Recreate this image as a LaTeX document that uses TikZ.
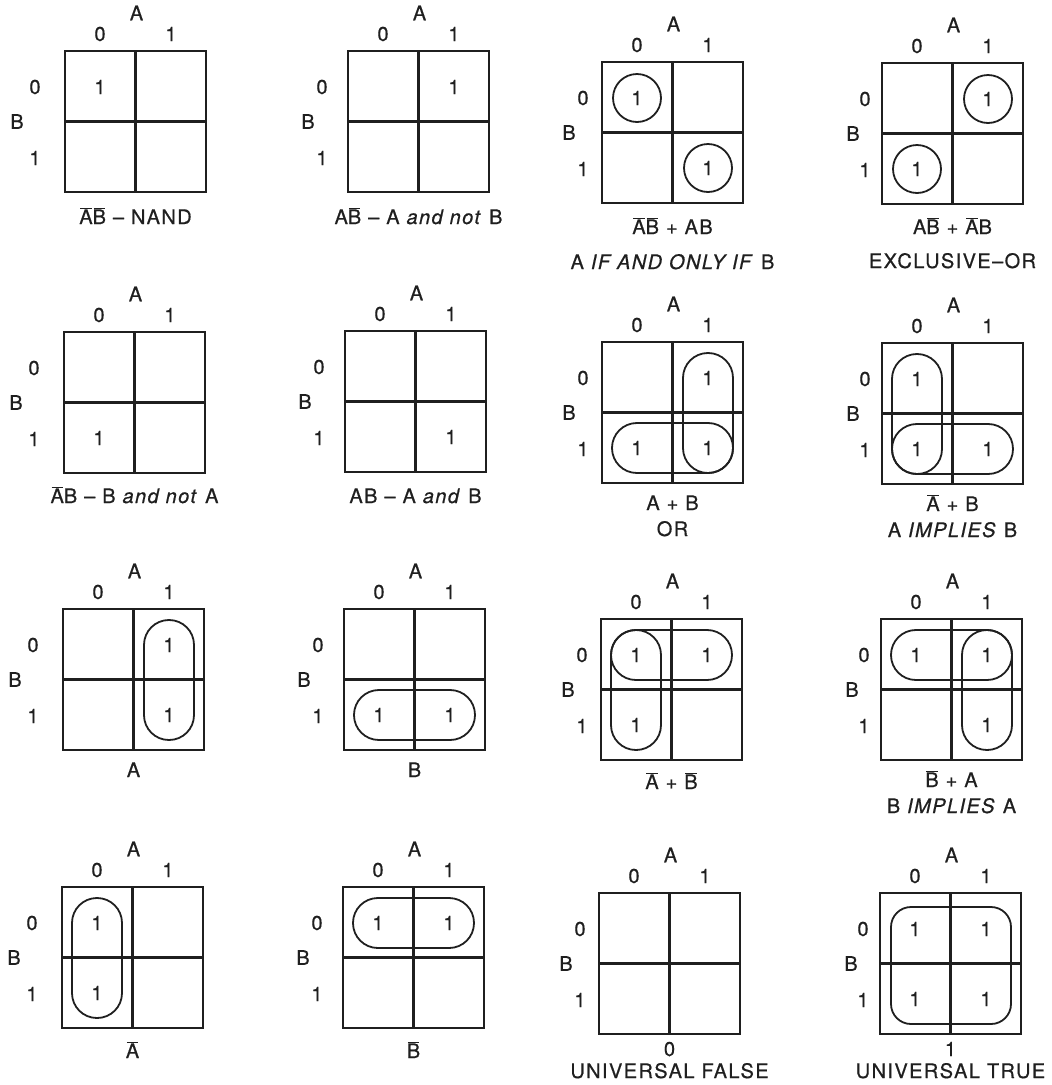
\documentclass[tikz,border=0pt]{standalone}
\usepackage{fontspec}
\setmainfont{TeX Gyre Heros}[LetterSpace=7, FakeBold=0.6]
\usepackage{xcolor}
\usetikzlibrary{calc}

\colorlet{ink}{black!88}
\newcommand\cmpl[1]{\kern1pt\relax$\overline{\mbox{\kern-1pt\relax#1\kern-1pt\relax}}$\kern1pt\relax}

\newcommand\kmap[5]{%
  \node[kbox, anchor=north west] (#1) at (#2,#3) {};
  \draw[kgrid] (#1.north) -- (#1.south);
  \draw[kgrid] (#1.west) -- (#1.east);
  \node[klbl] (#1-A) at ($(#1.north)+(1,-38)$) {A};
  \node[klbl] (#1-a0) at ($(#1.north west)+(35,-17)$) {0};
  \node[klbl] (#1-a1) at ($(#1.north west)+(106,-17)$) {1};
  \node[klbl] (#1-B) at ($(#1.west)+(-#4,0)$) {B};
  \node[klbl] (#1-b0) at ($(#1.north west)+(-#5,36)$) {0};
  \node[klbl] (#1-b1) at ($(#1.north west)+(-#5,107)$) {1};
  \coordinate (#1-00) at ($(#1.north west)+(35,36)$);
  \coordinate (#1-10) at ($(#1.north west)+(106,36)$);
  \coordinate (#1-01) at ($(#1.north west)+(35,106)$);
  \coordinate (#1-11) at ($(#1.north west)+(106,106)$);
}

\begin{document}
\begin{tikzpicture}[
  x=1pt, y=-1pt,
  font=\fontsize{20}{24}\selectfont, text=ink,
  kbox/.style={draw=ink, line width=2.4pt, minimum size=141pt, inner sep=0pt, outer sep=0pt},
  kgrid/.style={draw=ink, line width=2.2pt},
  klbl/.style={inner sep=0pt},
  kone/.style={inner sep=0pt},
  kcap/.style={inner sep=0pt, anchor=base},
  kloop/.style={draw=ink, line width=1.8pt, rounded corners=24.9pt}
]
  \useasboundingbox (0,0) rectangle (1052,1085);

  \kmap{m1}{65}{51}{48}{30}
  \kmap{m2}{348}{51}{40}{26}
  \kmap{m3}{602}{62}{33}{19}
  \kmap{m4}{882}{63}{29}{17}
  \kmap{m5}{64}{332}{48}{30}
  \kmap{m6}{345}{331}{40}{26}
  \kmap{m7}{602}{342}{33}{19}
  \kmap{m8}{882}{343}{29}{17}
  \kmap{m9}{63}{609}{48}{30}
  \kmap{m10}{344}{609}{40}{26}
  \kmap{m11}{601}{619}{33}{19}
  \kmap{m12}{881}{619}{29}{17}
  \kmap{m13}{62}{887}{48}{30}
  \kmap{m14}{343}{887}{40}{26}
  \kmap{m15}{599}{893}{33}{19}
  \kmap{m16}{880}{893}{29}{17}

  \foreach \m/\c in {m1/00, m2/10, m3/00, m3/11, m4/10, m4/01, m5/01, m6/11,
      m7/10, m7/01, m7/11, m8/00, m8/01, m8/11, m9/10, m9/11, m10/01, m10/11,
      m11/00, m11/10, m11/01, m12/00, m12/10, m12/11, m13/00, m13/01,
      m14/00, m14/10, m16/00, m16/10, m16/01, m16/11}
    \node[kone] (\m-v\c) at (\m-\c) {1};

  \foreach \m/\c in {m3/00, m3/11, m4/10, m4/01}
    \draw[kloop] (\m-\c) circle (24pt);
  \foreach \m/\p/\q in {m7/10/11, m7/01/11, m8/00/01, m8/01/11, m9/10/11,
      m10/01/11, m11/00/10, m11/00/01, m12/00/10, m12/10/11, m13/00/01, m14/00/10}
    \draw[kloop] ($(\m-\p)+(-25,-25)$) rectangle ($(\m-\q)+(25,25)$);
  \draw[kloop, rounded corners=20pt] ($(m16-00)+(-24,-22)$) rectangle ($(m16-11)+(25,25)$);

  \node[kcap] (m1-cap) at ($(m1.south)+(0,32)$) {\cmpl{A}\cmpl{B} -- NAND};
  \node[kcap] (m2-cap) at ($(m2.south)+(0,32)$) {A\cmpl{B} -- A \textit{and not} B};
  \node[kcap] (m3-cap) at ($(m3.south)+(0,31)$) {\cmpl{A}\cmpl{B} + AB};
  \node[kcap] (m3-cap2) at ($(m3.south)+(0,66)$) {A \textit{IF AND ONLY IF} B};
  \node[kcap] (m4-cap) at ($(m4.south)+(0,30)$) {A\cmpl{B} + \cmpl{A}B};
  \node[kcap] (m4-cap2) at ($(m4.south)+(0,64)$) {EXCLUSIVE--OR};
  \node[kcap] (m5-cap) at ($(m5.south)+(0,30)$) {\cmpl{A}B -- B \textit{and not} A};
  \node[kcap] (m6-cap) at ($(m6.south)+(0,31)$) {AB -- A \textit{and} B};
  \node[kcap] (m7-cap) at ($(m7.south)+(0,27)$) {A + B};
  \node[kcap] (m7-cap2) at ($(m7.south)+(0,53)$) {OR};
  \node[kcap] (m8-cap) at ($(m8.south)+(0,27)$) {\cmpl{A} + B};
  \node[kcap] (m8-cap2) at ($(m8.south)+(0,53)$) {A \textit{IMPLIES} B};
  \node[kcap] (m9-cap) at ($(m9.south)+(0,27)$) {A};
  \node[kcap] (m10-cap) at ($(m10.south)+(0,27)$) {B};
  \node[kcap] (m11-cap) at ($(m11.south)+(0,29)$) {\cmpl{A} + \cmpl{B}};
  \node[kcap] (m12-cap) at ($(m12.south)+(0,27)$) {\cmpl{B} + A};
  \node[kcap] (m12-cap2) at ($(m12.south)+(0,53)$) {B \textit{IMPLIES} A};
  \node[kcap] (m13-cap) at ($(m13.south)+(0,30)$) {\cmpl{A}};
  \node[kcap] (m14-cap) at ($(m14.south)+(0,30)$) {\cmpl{B}};
  \node[kcap] (m15-cap) at ($(m15.south)+(0,22)$) {0};
  \node[kcap] (m15-cap2) at ($(m15.south)+(0,44)$) {UNIVERSAL FALSE};
  \node[kcap] (m16-cap) at ($(m16.south)+(0,22)$) {1};
  \node[kcap] (m16-cap2) at ($(m16.south)+(0,44)$) {UNIVERSAL TRUE};
\end{tikzpicture}
\end{document}
